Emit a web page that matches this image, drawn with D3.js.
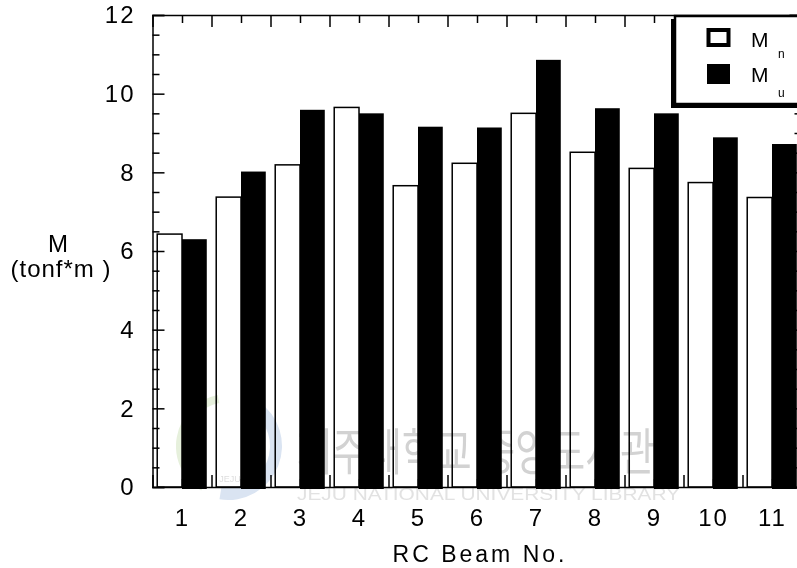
<!DOCTYPE html>
<html>
<head>
<meta charset="utf-8">
<script src="https://cdn.jsdelivr.net/npm/d3@7"></script>
<style>
  body { margin: 0; background: #fff; }
  text { font-family: "Liberation Sans", Arial, sans-serif; }
</style>
</head>
<body>
<div id="chart"></div>
<script>
// data
let beams = [1, 2, 3, 4, 5, 6, 7, 8, 9, 10, 11]
let Mn = [6.43, 7.37, 8.19, 9.65, 7.66, 8.23, 9.50, 8.51, 8.10, 7.74, 7.36]
let Mu = [6.30, 8.02, 9.59, 9.50, 9.16, 9.14, 10.86, 9.63, 9.50, 8.89, 8.72]
let yMajor = [0, 2, 4, 6, 8, 10, 12]
let seriesNames = ["M", "M"]
let seriesSubs = ["n", "u"]

let width = 797
let height = 568
let plot = {left: 152.5, right: 801.5, top: 15, bottom: 487}

let svg = d3.select("#chart")
    .append("svg")
    .attr("width", width)
    .attr("height", height)

let xScale = d3.scaleLinear().domain([0.5, 11.5]).range([plot.left, plot.right])
let yScale = d3.scaleLinear().domain([0, 12]).range([plot.bottom, plot.top])

let yMinor = d3.range(0.5, 12, 0.5).filter(v => v % 2 != 0)
let xBounds = d3.range(1.5, 11, 1)
let barW = 0.42

// white bars (Mn) left of the beam number, black bars (Mu) right of it
svg.append("g").selectAll("rect")
    .data(beams)
    .join("rect")
    .attr("x", (d, i) => xScale(d - barW))
    .attr("y", (d, i) => yScale(Mn[i]))
    .attr("width", xScale(barW) - xScale(0))
    .attr("height", (d, i) => yScale(0) - yScale(Mn[i]))
    .attr("fill", "white")
    .attr("stroke", "black")
    .attr("stroke-width", 1.5)

svg.append("g").selectAll("rect")
    .data(beams)
    .join("rect")
    .attr("x", (d, i) => xScale(d))
    .attr("y", (d, i) => yScale(Mu[i]))
    .attr("width", xScale(barW) - xScale(0))
    .attr("height", (d, i) => yScale(0) - yScale(Mu[i]) + 2)
    .attr("fill", "black")

// faint library watermark, multiplied so it vanishes on black
let wm = svg.append("g").style("mix-blend-mode", "multiply")
wm.append("path")
    .attr("transform", "translate(228,446)")
    .attr("d", d3.arc().innerRadius(44).outerRadius(52).startAngle(-2.6).endAngle(-0.2)())
    .attr("fill", "#e6f0dc")
wm.append("path")
    .attr("transform", "translate(228,446)")
    .attr("d", d3.arc().innerRadius(42).outerRadius(54).startAngle(0.6).endAngle(3.3)())
    .attr("fill", "#dae4f2")
wm.append("text")
    .attr("x", 230).attr("y", 482)
    .attr("text-anchor", "middle")
    .style("font-size", "9px")
    .attr("fill", "#dedede")
    .text("JEJU")
wm.append("text")
    .attr("x", 297).attr("y", 470)
    .attr("textLength", 358)
    .attr("lengthAdjust", "spacingAndGlyphs")
    .style("font-family", "'Noto Sans CJK KR', sans-serif")
    .style("font-size", "50px")
    .attr("fill", "#d2d2d2")
    .text("제주대학교 중앙도서관")
wm.append("text")
    .attr("x", 297).attr("y", 500)
    .attr("textLength", 383)
    .attr("lengthAdjust", "spacingAndGlyphs")
    .style("font-size", "16px")
    .attr("fill", "#e2e2e2")
    .text("JEJU NATIONAL UNIVERSITY LIBRARY")

// axes, ticks pointing inward
function styleAxis(g) {
    g.selectAll("path, line").attr("stroke", "black").attr("stroke-width", 1.5)
    g.selectAll("text")
        .style("font-family", "'Liberation Sans', Arial, sans-serif")
        .style("font-size", "24px")
        .style("letter-spacing", "2px")
        .attr("fill", "black")
}

svg.append("g")
    .attr("transform", "translate(" + plot.left + ",0)")
    .call(d3.axisLeft(yScale).tickValues(yMajor).tickSize(-12).tickPadding(17).tickFormat(d3.format("d")))
    .call(styleAxis)
svg.append("g")
    .attr("transform", "translate(" + plot.left + ",0)")
    .call(d3.axisLeft(yScale).tickValues(yMinor).tickSize(-7).tickFormat(""))
    .call(styleAxis)
    .select(".domain").remove()

svg.append("g")
    .attr("transform", "translate(" + plot.right + ",0)")
    .call(d3.axisRight(yScale).tickValues(yMajor).tickSize(-12).tickFormat(""))
    .call(styleAxis)
svg.append("g")
    .attr("transform", "translate(" + plot.right + ",0)")
    .call(d3.axisRight(yScale).tickValues(yMinor).tickSize(-7).tickFormat(""))
    .call(styleAxis)
    .select(".domain").remove()

svg.append("g")
    .attr("transform", "translate(0," + plot.top + ")")
    .call(d3.axisTop(xScale).tickValues(xBounds).tickSize(-12).tickFormat(""))
    .call(styleAxis)
svg.append("g")
    .attr("transform", "translate(0," + plot.top + ")")
    .call(d3.axisTop(xScale).tickValues(beams).tickSize(-8).tickFormat(""))
    .call(styleAxis)
    .select(".domain").remove()

svg.append("g")
    .attr("transform", "translate(0," + plot.bottom + ")")
    .call(d3.axisBottom(xScale).tickValues(xBounds).tickSize(-12).tickFormat(""))
    .call(styleAxis)
svg.append("g")
    .attr("transform", "translate(0," + plot.bottom + ")")
    .call(d3.axisBottom(xScale).tickValues(beams).tickSize(-8).tickPadding(22).tickFormat(d3.format("d")))
    .call(styleAxis)
    .select(".domain").remove()

// axis titles
svg.append("text")
    .attr("x", 480)
    .attr("y", 562)
    .attr("text-anchor", "middle")
    .style("font-size", "23px")
    .style("letter-spacing", "3px")
    .text("RC Beam No.")

svg.append("text")
    .attr("x", 58)
    .attr("y", 252)
    .attr("text-anchor", "middle")
    .style("font-size", "24px")
    .text("M")
svg.append("text")
    .attr("x", 61)
    .attr("y", 277)
    .attr("text-anchor", "middle")
    .style("font-size", "24px")
    .style("letter-spacing", "1px")
    .text("(tonf*m )")

// legend with drop shadow
let legend = svg.append("g")
legend.append("rect")
    .attr("x", 671).attr("y", 19)
    .attr("width", 140).attr("height", 89)
    .attr("fill", "black")
legend.append("rect")
    .attr("x", 675).attr("y", 16)
    .attr("width", 140).attr("height", 88)
    .attr("fill", "white")
    .attr("stroke", "black")
    .attr("stroke-width", 2.5)

legend.append("rect")
    .attr("x", 708.5).attr("y", 30)
    .attr("width", 20).attr("height", 15)
    .attr("fill", "white")
    .attr("stroke", "black")
    .attr("stroke-width", 4)
legend.append("rect")
    .attr("x", 707).attr("y", 64)
    .attr("width", 23).attr("height", 20)
    .attr("fill", "black")

seriesNames.forEach((name, i) => {
    legend.append("text")
        .attr("x", 751)
        .attr("y", 47 + i * 35)
        .style("font-size", "21px")
        .text(name)
    legend.append("text")
        .attr("x", 778)
        .attr("y", 58 + i * 39)
        .style("font-size", "12px")
        .text(seriesSubs[i])
})
</script>
</body>
</html>
